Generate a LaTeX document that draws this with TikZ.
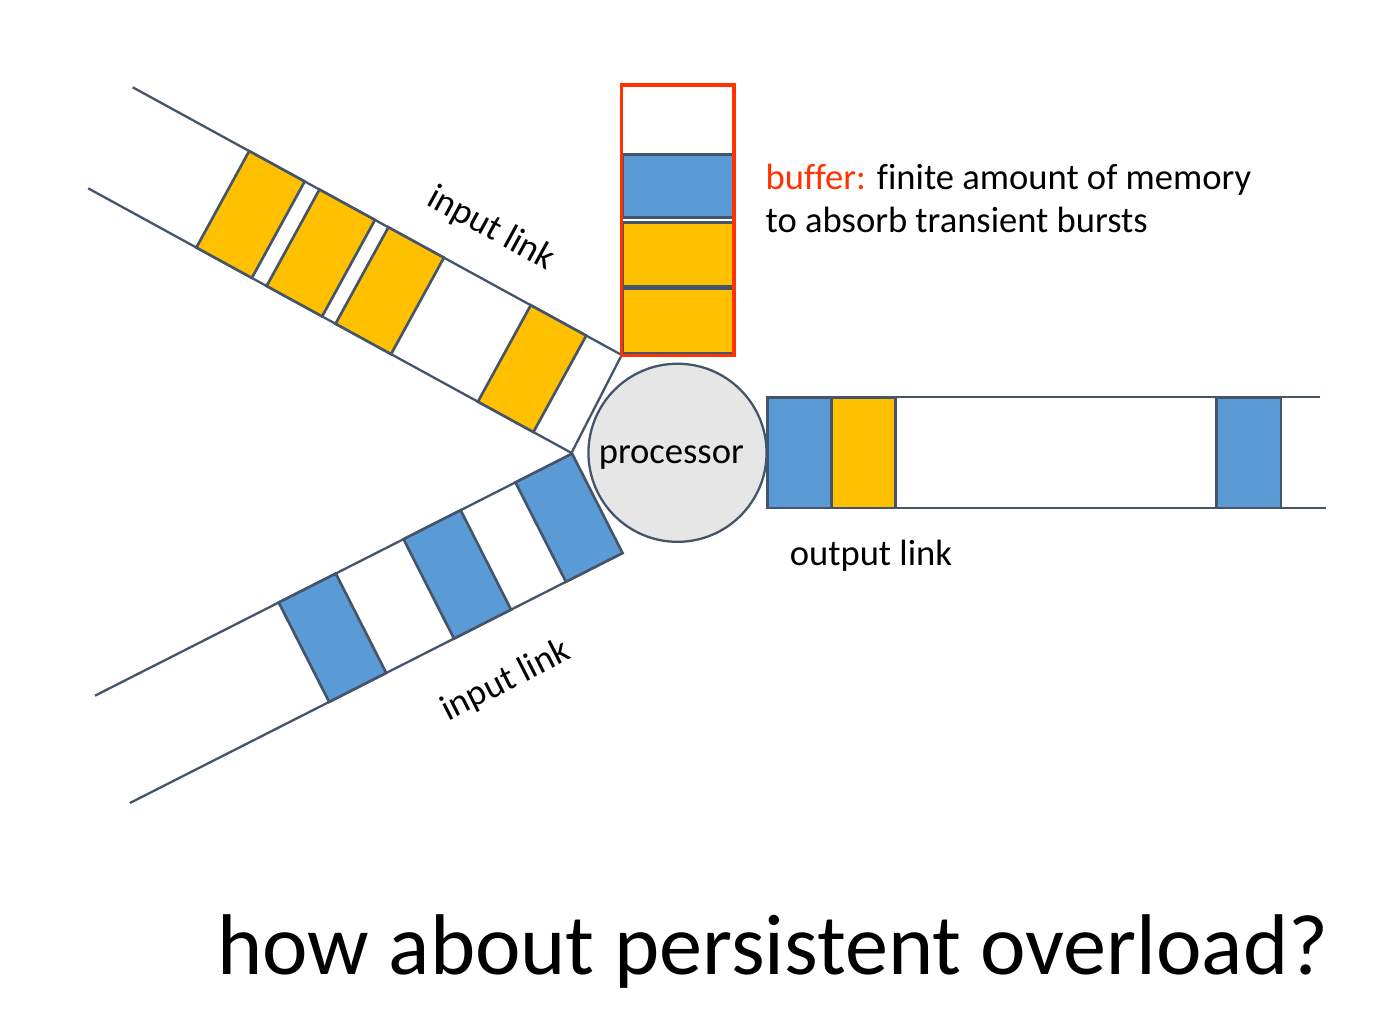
\documentclass[tikz,border=0pt]{standalone}
\usepackage{fontspec}
\setmainfont{Carlito}[Ligatures=NoCommon]
\definecolor{lc}{HTML}{44546A}
\definecolor{yel}{HTML}{FFC000}
\definecolor{blu}{HTML}{5B9BD5}
\definecolor{bufred}{RGB}{255,51,0}
\definecolor{procfill}{RGB}{230,230,230}
\tikzset{
  lnk/.style={draw=lc, line width=0.65pt},
  pkty/.style={draw=lc, fill=yel, line width=0.75pt},
  pktb/.style={draw=lc, fill=blu, line width=0.75pt},
  small/.style={font=\fontsize{10.4}{12.5}\selectfont, inner sep=0pt, text=black},
  big/.style={font=\fontsize{24.5}{29}\selectfont, inner sep=0pt, text=black},
}
\begin{document}
\begin{tikzpicture}[x=0.01cm,y=-0.01cm]
\useasboundingbox (0,0) rectangle (1396,1025);
\fill[white] (0,0) rectangle (1396,1025);

% upper input link
\begin{scope}[shift={(132.7,87.3)}, rotate=-28.7]
  \draw[lnk] (0,0) -- (557.5,0);
  \draw[lnk] (9.5,110) -- (560.5,110);
  \draw[lnk] (557.5,0) -- (560.5,110);
  \draw[pkty] (132.8,0) rectangle (196.1,110);
  \draw[pkty] (212.9,0) rectangle (276.2,110);
  \draw[pkty] (291.5,0) rectangle (354.8,110);
  \draw[pkty] (453.8,0) rectangle (517.1,110);
\end{scope}

% lower input link
\begin{scope}[shift={(95,695.7)}, rotate=26.9]
  \draw[lnk] (0,0) -- (535,0);
  \draw[lnk] (-17.5,111.5) -- (535,111.5);
  \draw[pktb] (206,0) rectangle (270,111.5);
  \draw[pktb] (346,0) rectangle (410,111.5);
  \draw[pktb] (471.5,0) rectangle (535,111.5);
\end{scope}

% output link
\draw[lnk] (767.7,397.3) -- (1320,397.3);
\draw[lnk] (767.7,508) -- (1326,508);
\draw[pktb] (767.7,397.3) rectangle (831.7,508);
\draw[pkty] (831.7,397.3) rectangle (895.7,508);
\draw[pktb] (1216.7,397.3) rectangle (1281,508);

% buffer
\draw[pktb] (622.7,154.3) rectangle (733.3,217.7);
\draw[pkty] (622.7,222.3) rectangle (733.3,286.7);
\draw[pkty] (622.7,288.3) rectangle (733.3,353.3);
\draw[draw=bufred, line width=1pt] (621.7,85) rectangle (734,355.7);

% processor
\node[circle, draw=lc, fill=procfill, line width=0.65pt, minimum size=1.78cm, inner sep=0pt] (proc) at (677.5,452.8) {};
\node[small, anchor=base] (proctext) at (671.3,463.3) {processor};

% labels
\node[small, anchor=base west] (buf1) at (765,189.3) {\textcolor{bufred}{buffer:} finite amount of memory};
\node[small, anchor=base west] (buf2) at (765,232.7) {to absorb transient bursts};
\node[small, anchor=base] (outlab) at (871,566) {output link};
\node[small, rotate=-28.7] (inlab1) at (491,229) {input link};
\node[small, rotate=26.9] (inlab2) at (506,681) {input link};
\node[big, anchor=base] (question) at (773,975) {how about persistent overload?};
\end{tikzpicture}
\end{document}
